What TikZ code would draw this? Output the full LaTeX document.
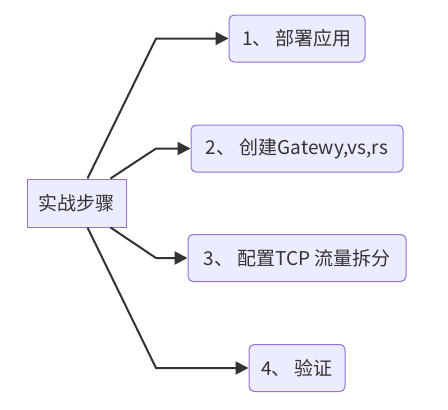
\documentclass[tikz,border=0pt]{standalone}
\usepackage{fontspec}
\setmainfont{Noto Sans CJK SC}
\usetikzlibrary{arrows.meta}
\definecolor{nodefill}{HTML}{ECECFF}
\definecolor{nodeline}{HTML}{9370DB}
\definecolor{edgecol}{HTML}{333333}
\begin{document}
\begin{tikzpicture}[x=1pt,y=-1pt,
  every node/.style={font=\fontsize{19}{22}\selectfont, text=edgecol},
  stepbox/.style={draw=nodeline, fill=nodefill, line width=1pt, rounded corners=5pt, minimum height=47pt, inner xsep=8pt},
  rootbox/.style={draw=nodeline, fill=nodefill, line width=1pt, minimum width=99pt, minimum height=48pt},
  conn/.style={draw=edgecol, line width=2pt, -{Triangle[length=13pt,width=13pt]}}]
\useasboundingbox (0,0) rectangle (448,410);
\node[rootbox] (root) at (76.5,203) {实战步骤};
\node[stepbox, minimum width=136pt] (s1) at (297,38.5) {1、 部署应用};
\node[stepbox, minimum width=212pt] (s2) at (297,148.5) {2、 创建Gatewy,vs,rs};
\node[stepbox, minimum width=218pt] (s3) at (297,258) {3、 配置TCP 流量拆分};
\node[stepbox, minimum width=96pt] (s4) at (297,368) {4、 验证};
\coordinate (b1) at (156,38.5);
\coordinate (b2) at (156,148.5);
\coordinate (b3) at (156,258);
\coordinate (b4) at (156,368);
\draw[conn] (root.north west) ++(61,0) -- (b1) -- (s1.west);
\draw[conn] (root.north west) ++(84,0) -- (b2) -- (s2.west);
\draw[conn] (root.south west) ++(84,0) -- (b3) -- (s3.west);
\draw[conn] (root.south west) ++(61,0) -- (b4) -- (s4.west);
\end{tikzpicture}
\end{document}
